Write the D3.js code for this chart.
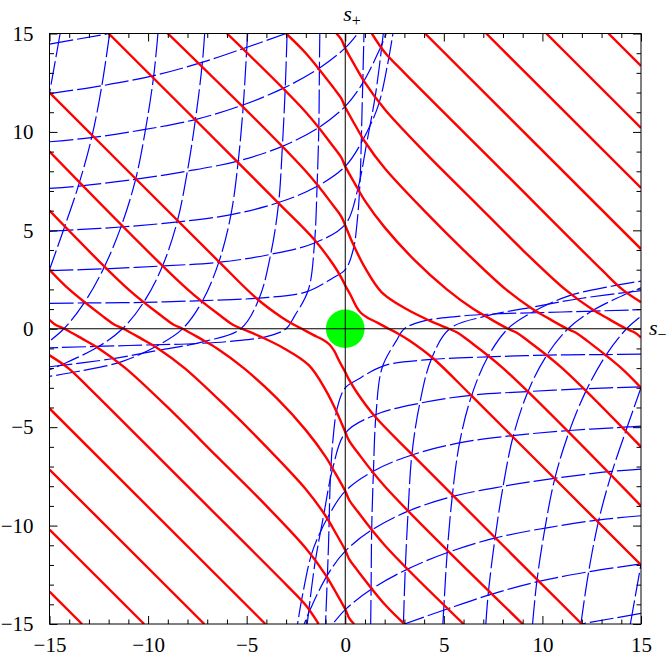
<!DOCTYPE html>
<html lang="en">
<head>
<meta charset="UTF-8">
<title>s+ / s- contours</title>
<script src="https://d3js.org/d3.v7.min.js"></script>
<style>
    body { margin: 0; background: #fff; }
    svg { display: block; }
    .lbl { font-family: 'Liberation Serif', 'Times New Roman', serif; font-size: 21px; fill: #000; }
    .axlbl { font-family: 'Liberation Serif', 'Times New Roman', serif; font-style: italic; font-size: 22px; }
</style>
</head>
<body>
<svg id="chart" width="672" height="657"></svg>
<script>
// tick values
const majorTicks = [-15, -10, -5, 0, 5, 10, 15];
const minorTicks = [-14, -13, -12, -11, -9, -8, -7, -6, -4, -3, -2, -1, 1, 2, 3, 4, 6, 7, 8, 9, 11, 12, 13, 14];

// red contours, positive levels ([s-, s+])
const redPos = [
    [[-12,15],[-3.5,6.5],[-1.5,4.45],[-0.6,3.25],[-0.2,2.6],[0,2.2],[0.3,1.65],[0.56,1.13],[0.8,0.8],[1.13,0.56],[1.65,0.3],[2.2,0],[2.6,-0.2],[3.25,-0.6],[4.45,-1.5],[6.5,-3.5],[15,-12]],
    [[-9,15],[-2,8],[-0.6,6.25],[-0.2,5.7],[0,5.25],[0.4,4.3],[1,3.1],[1.85,1.85],[3.1,1],[4.3,0.4],[5.25,0],[5.7,-0.2],[6.25,-0.6],[8,-2],[15,-9]],
    [[-6,15],[-2,11],[-0.6,9.25],[-0.2,8.7],[0,8.25],[0.5,7.35],[1,6.5],[2,5.15],[3.5,3.5],[5.15,2],[6.5,1],[7.35,0.5],[8.25,0],[8.7,-0.2],[9.25,-0.6],[11,-2],[15,-6]],
    [[-3,15],[-2,14],[-0.6,12.25],[-0.2,11.7],[0,11.25],[0.5,10.35],[1,9.5],[2,8.15],[4,6],[6,4],[8.15,2],[9.5,1],[10.35,0.5],[11.25,0],[11.7,-0.2],[12.25,-0.6],[14,-2],[15,-3]],
    [[-0.45,15],[-0.2,14.7],[0,14.25],[0.5,13.35],[1,12.5],[2,11.15],[4,9],[6.5,6.5],[9,4],[11.15,2],[12.5,1],[13.35,0.5],[14.25,0],[14.7,-0.2],[15,-0.45]],
    [[1.35,15],[2,14.05],[3,13],[8,8],[13,3],[14.05,2],[15,1.35]],
    [[4.05,15],[15,4.05]],
    [[7.15,15],[15,7.15]],
    [[10.2,15],[15,10.2]],
    [[13.35,15],[15,13.35]]
];

// red contours, negative levels
const redNeg = [
    [[-15,12],[-6.5,3.5],[-4.45,1.5],[-3.25,0.6],[-2.6,0.2],[-2.2,0],[-1.65,-0.3],[-1.13,-0.56],[-0.8,-0.8],[-0.56,-1.13],[-0.3,-1.65],[0,-2.2],[0.2,-2.6],[0.6,-3.25],[1.5,-4.45],[3.5,-6.5],[12,-15]],
    [[-15,9],[-8,2],[-6.25,0.6],[-5.7,0.2],[-5.25,0],[-4.3,-0.4],[-3.1,-1],[-1.85,-1.85],[-1,-3.1],[-0.4,-4.3],[0,-5.25],[0.2,-5.7],[0.6,-6.25],[2,-8],[9,-15]],
    [[-15,6],[-11,2],[-9.25,0.6],[-8.7,0.2],[-8.25,0],[-7.35,-0.5],[-6.5,-1],[-5.15,-2],[-3.5,-3.5],[-2,-5.15],[-1,-6.5],[-0.5,-7.35],[0,-8.25],[0.2,-8.7],[0.6,-9.25],[2,-11],[6,-15]],
    [[-15,3],[-14,2],[-12.25,0.6],[-11.7,0.2],[-11.25,0],[-10.35,-0.5],[-9.5,-1],[-8.15,-2],[-6,-4],[-4,-6],[-2,-8.15],[-1,-9.5],[-0.5,-10.35],[0,-11.25],[0.2,-11.7],[0.6,-12.25],[2,-14],[3,-15]],
    [[-15,0.45],[-14.7,0.2],[-14.25,0],[-13.35,-0.5],[-12.5,-1],[-11.15,-2],[-9,-4],[-6.5,-6.5],[-4,-9],[-2,-11.15],[-1,-12.5],[-0.5,-13.35],[0,-14.25],[0.2,-14.7],[0.45,-15]],
    [[-15,-1.35],[-14.05,-2],[-13,-3],[-8,-8],[-3,-13],[-2,-14.05],[-1.35,-15]],
    [[-15,-4.05],[-4.05,-15]],
    [[-15,-7.15],[-7.15,-15]],
    [[-15,-10.2],[-10.2,-15]],
    [[-15,-13.35],[-13.35,-15]]
];

// blue dashed, upper-left family entering from the left edge
const blueA = [
    [[-15,14.46],[-11.96,15]],
    [[-15,11.95],[-12.38,12.34],[-9.76,12.85],[-7.31,13.52],[-5.02,14.29],[-3.0,15]],
    [[-15,9.5],[-12.89,9.71],[-10.3,10.1],[-7.56,10.64],[-5.19,11.37],[-3.08,12.25],[-1.3,13.25],[0,14.27],[0.63,15]],
    [[-15,7.13],[-13.48,7.25],[-10.69,7.59],[-7.98,8.01],[-5.45,8.52],[-3.16,9.28],[-1.35,10.22],[0,11.3],[0.89,12.49],[1.74,14.18],[2.08,15]],
    [[-15,4.95],[-14.32,4.99],[-11.37,5.17],[-8.49,5.43],[-5.78,5.8],[-3.42,6.4],[-1.47,7.21],[0,8.25],[0.81,9.44],[1.66,11.3],[2.16,13.5],[2.42,15]],
    [[-15,2.95],[-12.3,3.04],[-9.25,3.19],[-6.38,3.38],[-3.84,3.77],[-1.56,4.36],[0,5.3],[0.63,7.07],[1.1,9.5],[1.55,12],[1.93,15]],
    [[-15,1.29],[-13.3,1.31],[-10.27,1.34],[-7.22,1.43],[-4.35,1.56],[-1.98,1.87],[-0.63,2.58],[0,3.0],[0.4,4.0],[0.62,5.6],[0.75,7.5],[0.85,11],[0.95,15]]
];

// blue dashed, upper-left family entering from the top edge
const blueB = [
    [[-14.46,15],[-15,11.96]],
    [[-11.95,15],[-12.34,12.38],[-12.85,9.76],[-13.52,7.31],[-14.29,5.02],[-15,3.0]],
    [[-9.5,15],[-9.71,12.89],[-10.1,10.3],[-10.64,7.56],[-11.37,5.19],[-12.25,3.08],[-13.25,1.3],[-14.27,0],[-15,-0.63]],
    [[-7.13,15],[-7.25,13.48],[-7.59,10.69],[-8.01,7.98],[-8.52,5.45],[-9.28,3.16],[-10.22,1.35],[-11.3,0],[-12.49,-0.89],[-14.18,-1.74],[-15,-2.08]],
    [[-4.95,15],[-4.99,14.32],[-5.17,11.37],[-5.43,8.49],[-5.8,5.78],[-6.4,3.42],[-7.21,1.47],[-8.25,0],[-9.44,-0.81],[-11.3,-1.66],[-13.5,-2.16],[-15,-2.42]],
    [[-2.95,15],[-3.04,12.3],[-3.19,9.25],[-3.38,6.38],[-3.77,3.84],[-4.36,1.56],[-5.3,0],[-7.07,-0.63],[-9.5,-1.1],[-12,-1.55],[-15,-1.93]],
    [[-1.29,15],[-1.31,13.3],[-1.34,10.27],[-1.43,7.22],[-1.56,4.35],[-1.87,1.98],[-2.58,0.63],[-3.0,0],[-4.0,-0.4],[-5.6,-0.62],[-7.5,-0.75],[-11,-0.85],[-15,-0.97]]
];

// blue dashed, lower-right family entering from the right edge
const blueC = [
    [[15,-14.46],[11.96,-15]],
    [[15,-11.95],[12.38,-12.34],[9.76,-12.85],[7.31,-13.52],[5.02,-14.29],[3.0,-15]],
    [[15,-9.5],[12.89,-9.71],[10.3,-10.1],[7.56,-10.64],[5.19,-11.37],[3.08,-12.25],[1.3,-13.25],[0,-14.27],[-0.63,-15]],
    [[15,-7.13],[13.48,-7.25],[10.69,-7.59],[7.98,-8.01],[5.45,-8.52],[3.16,-9.28],[1.35,-10.22],[0,-11.3],[-0.89,-12.49],[-1.74,-14.18],[-2.08,-15]],
    [[15,-4.95],[14.32,-4.99],[11.37,-5.17],[8.49,-5.43],[5.78,-5.8],[3.42,-6.4],[1.47,-7.21],[0,-8.25],[-0.81,-9.44],[-1.66,-11.3],[-2.16,-13.5],[-2.42,-15]],
    [[15,-2.95],[12.3,-3.04],[9.25,-3.19],[6.38,-3.38],[3.84,-3.77],[1.56,-4.36],[0,-5.3],[-0.63,-7.07],[-1.1,-9.5],[-1.55,-12],[-1.93,-15]],
    [[15,-1.29],[13.3,-1.31],[10.27,-1.34],[7.22,-1.43],[4.35,-1.56],[1.98,-1.87],[0.63,-2.58],[0,-3.0],[-0.4,-4.0],[-0.62,-5.6],[-0.75,-7.5],[-0.85,-11],[-1.0,-15]]
];

// blue dashed, lower-right family entering from the bottom edge
const blueD = [
    [[14.46,-15],[15,-11.96]],
    [[11.95,-15],[12.34,-12.38],[12.85,-9.76],[13.52,-7.31],[14.29,-5.02],[15,-3.0]],
    [[9.5,-15],[9.71,-12.89],[10.1,-10.3],[10.64,-7.56],[11.37,-5.19],[12.25,-3.08],[13.25,-1.3],[14.27,0],[15,0.63]],
    [[7.13,-15],[7.25,-13.48],[7.59,-10.69],[8.01,-7.98],[8.52,-5.45],[9.28,-3.16],[10.22,-1.35],[11.3,0],[12.49,0.89],[14.18,1.74],[15,2.08]],
    [[4.95,-15],[4.99,-14.32],[5.17,-11.37],[5.43,-8.49],[5.8,-5.78],[6.4,-3.42],[7.21,-1.47],[8.25,0],[9.44,0.81],[11.3,1.66],[13.5,2.16],[15,2.42]],
    [[2.95,-15],[3.04,-12.3],[3.19,-9.25],[3.38,-6.38],[3.77,-3.84],[4.36,-1.56],[5.3,0],[7.07,0.63],[9.5,1.1],[12,1.55],[15,1.93]],
    [[1.29,-15],[1.31,-13.3],[1.34,-10.27],[1.43,-7.22],[1.56,-4.35],[1.87,-1.98],[2.58,-0.63],[3.0,0],[4.0,0.4],[5.6,0.62],[7.5,0.75],[11,0.85],[15,0.97]]
];

const disk = { x: 0, y: 0, r: 0.98 };

const svg = d3.select("#chart");
const pLeft = 49.5, pRight = 641, pTop = 33.5, pBottom = 624;

const x = d3.scaleLinear().domain([-15, 15]).range([pLeft, pRight]);
const y = d3.scaleLinear().domain([-15, 15]).range([pBottom, pTop]);

svg.append("clipPath").attr("id", "plotclip")
    .append("rect")
    .attr("x", pLeft).attr("y", pTop)
    .attr("width", pRight - pLeft).attr("height", pBottom - pTop);

const plot = svg.append("g").attr("clip-path", "url(#plotclip)");

const line = d3.line()
    .x(d => x(d[0]))
    .y(d => y(d[1]))
    .curve(d3.curveCatmullRom.alpha(0.5));

// blue first, red on top
plot.append("g")
    .selectAll("path")
    .data(blueA.concat(blueB, blueC, blueD))
    .enter().append("path")
    .attr("d", line)
    .attr("fill", "none")
    .attr("stroke", "#0000ff")
    .attr("stroke-width", 1.2)
    .attr("stroke-dasharray", "24,4");

plot.append("g")
    .selectAll("path")
    .data(redPos.concat(redNeg))
    .enter().append("path")
    .attr("d", line)
    .attr("fill", "none")
    .attr("stroke", "#ff0000")
    .attr("stroke-width", 2.4);

// green disk at the origin
plot.append("circle")
    .attr("cx", x(disk.x))
    .attr("cy", y(disk.y))
    .attr("r", x(disk.r) - x(0))
    .attr("fill", "#00ff00");

// axes through the origin
plot.append("line")
    .attr("x1", pLeft).attr("x2", pRight)
    .attr("y1", y(0)).attr("y2", y(0))
    .attr("stroke", "#000").attr("stroke-width", 1);
plot.append("line")
    .attr("x1", x(0)).attr("x2", x(0))
    .attr("y1", pTop).attr("y2", pBottom)
    .attr("stroke", "#000").attr("stroke-width", 1);

// frame ticks, inward on all four sides
function frameAxis(axisFn, scale, values, size, pad) {
    const a = axisFn(scale).tickValues(values).tickSize(-size);
    if (pad) {
        a.tickPadding(pad).tickFormat(d3.format("d"));
    } else {
        a.tickFormat("");
    }
    return a;
}

const gLeft = svg.append("g").attr("transform", `translate(${pLeft},0)`);
gLeft.call(frameAxis(d3.axisLeft, y, majorTicks, 8, 16));
gLeft.append("g").call(frameAxis(d3.axisLeft, y, minorTicks, 4.5, 0));

const gBottom = svg.append("g").attr("transform", `translate(0,${pBottom})`);
gBottom.call(frameAxis(d3.axisBottom, x, majorTicks, 8, 13));
gBottom.append("g").call(frameAxis(d3.axisBottom, x, minorTicks, 4.5, 0));

const gTop = svg.append("g").attr("transform", `translate(0,${pTop})`);
gTop.call(frameAxis(d3.axisTop, x, majorTicks, 8, 0));
gTop.append("g").call(frameAxis(d3.axisTop, x, minorTicks, 4.5, 0));

const gRight = svg.append("g").attr("transform", `translate(${pRight},0)`);
gRight.call(frameAxis(d3.axisRight, y, majorTicks, 8, 0));
gRight.append("g").call(frameAxis(d3.axisRight, y, minorTicks, 4.5, 0));

svg.selectAll(".domain").remove();
svg.selectAll(".tick line").attr("stroke", "#000").attr("stroke-width", 1);
svg.selectAll(".tick text").attr("class", "lbl").attr("font-family", null).attr("font-size", null);

svg.append("rect")
    .attr("x", pLeft).attr("y", pTop)
    .attr("width", pRight - pLeft).attr("height", pBottom - pTop)
    .attr("fill", "none").attr("stroke", "#000").attr("stroke-width", 1);

// axis names
const tTop = svg.append("text").attr("class", "axlbl")
    .attr("x", x(0) - 2).attr("y", 21);
tTop.append("tspan").text("s");
tTop.append("tspan").attr("font-style", "normal").attr("font-size", 16).attr("dy", 5).text("+");

const tRight = svg.append("text").attr("class", "axlbl")
    .attr("x", 649).attr("y", y(0) + 6);
tRight.append("tspan").text("s");
tRight.append("tspan").attr("font-style", "normal").attr("font-size", 16).attr("dy", 5).text("\u2212");
</script>
</body>
</html>
